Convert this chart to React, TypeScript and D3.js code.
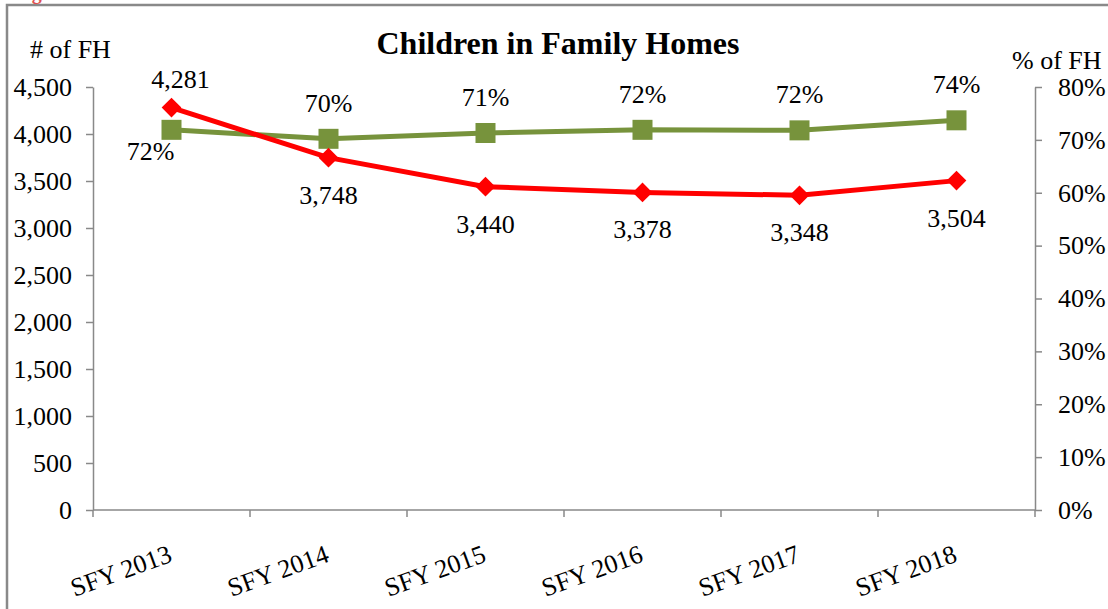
import React, { useRef, useEffect } from 'react';
import * as d3 from 'd3';

const categories = ['SFY 2013', 'SFY 2014', 'SFY 2015', 'SFY 2016', 'SFY 2017', 'SFY 2018'];
const homesCount = [4281, 3748, 3440, 3378, 3348, 3504];
const homesPct = [0.719, 0.702, 0.713, 0.719, 0.718, 0.737];
const pctLabels = ['72%', '70%', '71%', '72%', '72%', '74%'];
const leftTicks = [0, 500, 1000, 1500, 2000, 2500, 3000, 3500, 4000, 4500];
const rightTicks = [0, 0.1, 0.2, 0.3, 0.4, 0.5, 0.6, 0.7, 0.8];

const RED = '#FF0000';
const GREEN = '#77933C';
const AXIS = '#898989';
const FONT = '"Liberation Serif", "Times New Roman", serif';

const App = () => {
  const ref = useRef<SVGSVGElement>(null);

  useEffect(() => {
    const svg = d3.select(ref.current);
    svg.selectAll('*').remove();

    const left = 93, right = 1035, top = 87, bottom = 510;

    const x = d3.scaleBand().domain(categories).range([left, right]);
    const yL = d3.scaleLinear().domain([0, 4500]).range([bottom, top]);
    const yR = d3.scaleLinear().domain([0, 0.8]).range([bottom, top]);
    const cx = (c: string) => (x(c) as number) + x.bandwidth() / 2;

    // frame + caption that is cut off by the top edge
    svg.append('rect')
      .attr('x', 7).attr('y', 5).attr('width', 1200).attr('height', 700)
      .attr('fill', 'none').attr('stroke', AXIS).attr('stroke-width', 2.5);
    svg.append('text')
      .attr('x', 14).attr('y', -1)
      .attr('font-family', FONT).attr('font-size', 20).attr('font-weight', 'bold')
      .attr('fill', '#E05050')
      .text('Figure 6');

    // left axis
    const gL = svg.append('g').attr('transform', `translate(${left},0)`)
      .call(d3.axisLeft(yL).tickValues(leftTicks).tickSize(7).tickSizeOuter(0).tickPadding(14)
        .tickFormat(d => d3.format(',')(d as number)));
    // right axis
    const gR = svg.append('g').attr('transform', `translate(${right},0)`)
      .call(d3.axisRight(yR).tickValues(rightTicks).tickSize(7).tickSizeOuter(0).tickPadding(16)
        .tickFormat(d3.format('.0%')));
    // bottom axis, ticks sit on the category boundaries
    const gB = svg.append('g').attr('transform', `translate(0,${bottom})`);
    gB.append('line').attr('x1', left).attr('x2', right).attr('stroke', AXIS).attr('stroke-width', 1.5);
    const bounds = categories.map(c => x(c) as number).concat([right]);
    gB.selectAll('line.tk').data(bounds).enter().append('line')
      .attr('class', 'tk')
      .attr('x1', d => d).attr('x2', d => d).attr('y1', 0).attr('y2', 7)
      .attr('stroke', AXIS).attr('stroke-width', 1.5);
    gB.selectAll('text').data(categories).enter().append('text')
      .attr('transform', d => `translate(${cx(d) + 2},${51}) rotate(-20)`)
      .attr('text-anchor', 'end')
      .attr('font-family', FONT).attr('font-size', 26)
      .text(d => d);

    [gL, gR].forEach(g => {
      g.select('.domain').attr('stroke', AXIS).attr('stroke-width', 1.5);
      g.selectAll('.tick line').attr('stroke', AXIS).attr('stroke-width', 1.5);
      g.selectAll('.tick text').attr('font-family', FONT).attr('font-size', 26).attr('fill', '#000');
    });

    // titles
    svg.append('text').attr('x', 558).attr('y', 54).attr('text-anchor', 'middle')
      .attr('font-family', FONT).attr('font-size', 32).attr('font-weight', 'bold')
      .text('Children in Family Homes');
    svg.append('text').attr('x', 30).attr('y', 58)
      .attr('font-family', FONT).attr('font-size', 26).text('# of FH');
    svg.append('text').attr('x', 1012).attr('y', 69)
      .attr('font-family', FONT).attr('font-size', 26).text('% of FH');

    // green series (percent)
    const lineR = d3.line<number>().x((_, i) => cx(categories[i])).y(d => yR(d));
    svg.append('path').datum(homesPct).attr('d', lineR)
      .attr('fill', 'none').attr('stroke', GREEN).attr('stroke-width', 5);
    svg.selectAll('rect.m').data(homesPct).enter().append('rect')
      .attr('class', 'm')
      .attr('x', (_, i) => cx(categories[i]) - 10).attr('y', d => yR(d) - 10)
      .attr('width', 20).attr('height', 20).attr('fill', GREEN);

    // red series (count)
    const lineL = d3.line<number>().x((_, i) => cx(categories[i])).y(d => yL(d));
    svg.append('path').datum(homesCount).attr('d', lineL)
      .attr('fill', 'none').attr('stroke', RED).attr('stroke-width', 5);
    const diamond = d3.symbol().type(d3.symbolSquare).size(120);
    svg.selectAll('path.dm').data(homesCount).enter().append('path')
      .attr('class', 'dm')
      .attr('transform', (d, i) => `translate(${cx(categories[i])},${yL(d)}) rotate(45)`)
      .attr('d', diamond()).attr('fill', RED).attr('stroke', RED).attr('stroke-width', 3)
      .attr('stroke-linejoin', 'miter');

    // data labels
    svg.selectAll('text.cl').data(homesCount).enter().append('text')
      .attr('class', 'cl')
      .attr('x', (_, i) => cx(categories[i]) + (i === 0 ? 9 : 0))
      .attr('y', (d, i) => yL(d) + (i === 0 ? -20 : 46))
      .attr('text-anchor', 'middle')
      .attr('font-family', FONT).attr('font-size', 26)
      .text(d => d3.format(',')(d));
    svg.selectAll('text.pl').data(homesPct).enter().append('text')
      .attr('class', 'pl')
      .attr('x', (_, i) => cx(categories[i]) - (i === 0 ? 21 : 0))
      .attr('y', (d, i) => yR(d) + (i === 0 ? 30 : -27))
      .attr('text-anchor', 'middle')
      .attr('font-family', FONT).attr('font-size', 26)
      .text((_, i) => pctLabels[i]);
  }, []);

  return <svg ref={ref} width={1108} height={609}
    style={{ display: 'block', position: 'absolute', left: 0, top: 0 }}></svg>;
};

export default App;
